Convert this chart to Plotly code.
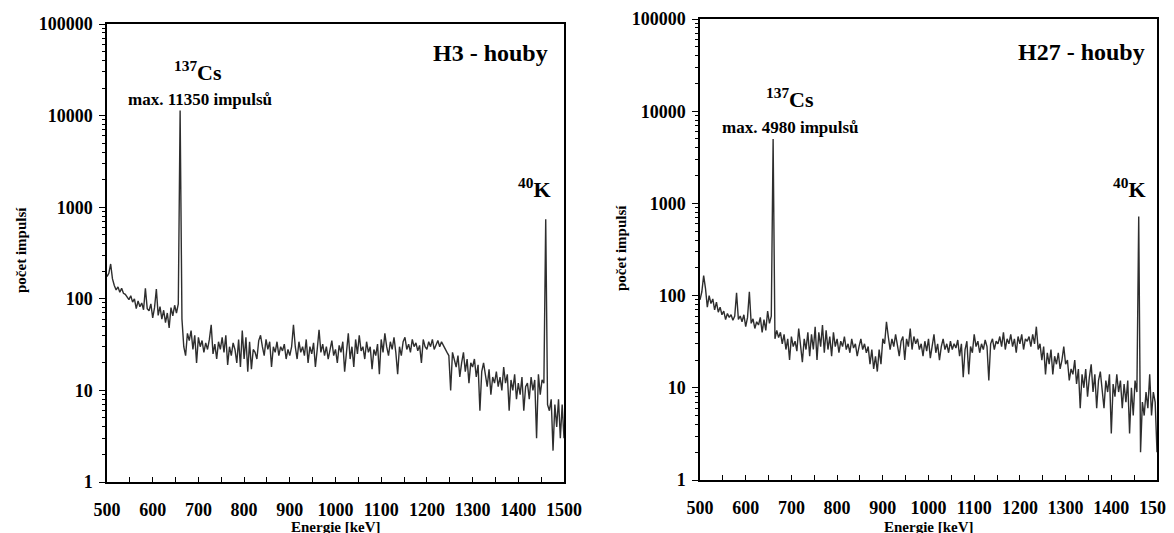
import plotly.graph_objects as go
from plotly.subplots import make_subplots

# energy channels [keV], 4 keV step
energie = list(range(500, 1501, 4))

# H3 - houby
h3 = [
    175, 190, 240, 165, 140, 125, 135, 118, 130, 115,
    112, 104, 98, 108, 92, 100, 78, 95, 82, 90,
    76, 130, 78, 74, 88, 62, 80, 128, 66, 82,
    60, 75, 55, 70, 48, 80, 65, 85, 70, 88,
    11350,
    60, 30, 24, 42, 35, 45, 28, 40, 20,
    38, 30, 35, 26, 33, 28, 36, 52, 25, 32,
    22, 34, 28, 38, 26, 40, 19, 30, 24, 33,
    28, 20, 36, 18, 45, 22, 38, 16, 34, 17,
    28, 26, 22, 35, 40, 30, 24, 36, 28, 34,
    18, 30, 26, 34, 24, 30, 27, 32, 22, 28,
    24, 30, 52, 30, 22, 34, 26, 30, 24, 36,
    20, 30, 25, 33, 18, 28, 46, 26, 32, 24,
    30, 22, 27, 35, 24, 28, 20, 31, 26, 34,
    16, 28, 42, 22, 30, 18, 36, 25, 40, 27,
    30, 22, 34, 26, 30, 17, 28, 24, 32, 15,
    36, 26, 42, 30, 24, 34, 28, 38, 26, 15,
    30, 24, 34, 38, 28, 32, 26, 36, 30, 33,
    27, 31, 20, 36, 30, 28, 34, 30, 36, 28,
    32, 35, 30, 34, 31, 28, 26, 24, 10, 26,
    22, 18, 24, 14, 20, 26, 16, 22, 12, 20,
    18, 22, 14, 19, 6, 16, 20, 15, 11, 17,
    9, 14, 12, 16, 11, 14, 10, 18, 12, 15,
    6, 13, 10, 15, 8, 12, 9, 14, 6, 11,
    12, 8, 14, 10, 13, 3, 15, 9, 13, 12,
    740,
    7, 6, 8, 2.2, 7, 4, 8, 3, 7, 3,
]

# H27 - houby
h27 = [
    90, 110, 165, 120, 75, 100, 82, 92, 70, 85,
    66, 75, 62, 68, 55, 64, 58, 62, 54, 60,
    107, 55, 60, 52, 62, 46, 58, 110, 50, 56,
    44, 52, 48, 58, 40, 55, 42, 68, 50, 60,
    4980,
    34, 42, 35, 40, 30, 38, 26, 34, 20,
    36, 28, 32, 25, 44, 30, 19, 34, 26, 40,
    22, 38, 26, 46, 20, 40, 28, 48, 24, 42,
    26, 36, 22, 40, 28, 34, 24, 32, 28, 36,
    26, 30, 24, 34, 27, 30, 22, 28, 34, 26,
    30, 24, 28, 18, 26, 16, 22, 15, 26, 18,
    34, 30, 52, 36, 26, 34, 28, 38, 30, 22,
    32, 36, 20, 34, 28, 44, 26, 36, 30, 34,
    26, 30, 22, 32, 25, 34, 21, 28, 38, 24,
    30, 20, 28, 34, 26, 30, 24, 32, 26, 30,
    27, 33, 22, 30, 13, 26, 32, 14, 28, 24,
    38, 28, 32, 24, 30, 26, 33, 28, 12, 30,
    34, 26, 32, 30, 36, 28, 40, 26, 34, 30,
    38, 28, 34, 24, 36, 30, 38, 26, 34, 32,
    36, 28, 38, 30, 46, 26, 30, 20, 28, 14,
    24, 18, 26, 14, 22, 18, 24, 16, 20, 28,
    18, 20, 12, 16, 14, 20, 11, 16, 6, 14,
    10, 16, 8, 13, 18, 9, 14, 6, 12, 15,
    10, 6, 12, 9, 14, 3.2, 11, 8, 14, 9,
    12, 6, 11, 7, 12, 3.2, 10, 5, 12, 9,
    720,
    2, 7, 5, 9, 6, 14, 5, 9, 7, 2,
]

# the page body has an 8px margin, so the figure is drawn 8px in from the corner
OFF = 8
W, H = 1174 - OFF, 533 - OFF
FONT = "Liberation Serif"


def px(x, y):
    return (x - OFF) / W, 1 - (y - OFF) / H


fig = make_subplots(rows=1, cols=2)
fig.add_trace(go.Scatter(x=energie, y=h3, mode="lines",
                         line=dict(color="#2e2e2e", width=1.4)), row=1, col=1)
fig.add_trace(go.Scatter(x=energie, y=h27, mode="lines",
                         line=dict(color="#2e2e2e", width=1.4)), row=1, col=2)

xax = dict(range=[500, 1500], tickvals=list(range(500, 1501, 100)),
           ticks="inside", ticklen=5, tickwidth=1.2, tickcolor="black",
           minor=dict(ticks="inside", ticklen=5, dtick=50, tickcolor="black", tickwidth=1.2),
           showline=True, linecolor="black", linewidth=1.5, mirror=True,
           showgrid=False, zeroline=False, ticklabelstandoff=11, automargin=False,
           ticklabeloverflow="allow",
           tickfont=dict(family=FONT, size=18, color="black", weight="bold"))
yvals = [1, 10, 100, 1000, 10000, 100000]
yax = dict(type="log", range=[0, 5], tickvals=yvals, ticktext=[str(v) for v in yvals],
           ticks="outside", ticklen=6, tickwidth=1.2, tickcolor="black",
           minor=dict(ticks="outside", ticklen=3, dtick="D1", tickcolor="black", tickwidth=1),
           showline=True, linecolor="black", linewidth=1.5, mirror=True,
           showgrid=False, zeroline=False, ticklabelstandoff=3, automargin=False,
           tickfont=dict(family=FONT, size=18, color="black", weight="bold"))

x0, _ = px(107, 0)
x1, _ = px(564, 0)
x2, _ = px(700, 0)
x3, _ = px(1157, 0)
_, yb1 = px(0, 482)
_, yt1 = px(0, 24)
_, yb2 = px(0, 480)
_, yt2 = px(0, 19)

fig.update_layout(
    width=W, height=H, margin=dict(l=0, r=0, t=0, b=0),
    paper_bgcolor="white", plot_bgcolor="white", showlegend=False,
    xaxis=dict(xax, domain=[x0, x1]),
    yaxis=dict(yax, domain=[yb1, yt1]),
    xaxis2=dict(xax, domain=[x2, x3]),
    yaxis2=dict(yax, domain=[yb2, yt2]),
)

labels = [
    # (x, y, text, size, angle)
    (198, 71, "<sup>137</sup>Cs", 22, 0),
    (200, 99, "max. 11350 impulsů", 17, 0),
    (490, 53, "H3 - houby", 24, 0),
    (534, 188, "<sup>40</sup>K", 22, 0),
    (336, 527, "Energie [keV]", 15, 0),
    (21, 250, "počet impulsí", 15, -90),
    (790, 98, "<sup>137</sup>Cs", 22, 0),
    (790, 128, "max. 4980 impulsů", 17, 0),
    (1081, 52, "H27 - houby", 24, 0),
    (1129, 188, "<sup>40</sup>K", 22, 0),
    (929, 527, "Energie [keV]", 15, 0),
    (621, 248, "počet impulsí", 15, -90),
]
for x, y, t, s, a in labels:
    fx, fy = px(x, y)
    fig.add_annotation(x=fx, y=fy, xref="paper", yref="paper", text=t, showarrow=False,
                       xanchor="center", yanchor="middle", textangle=a,
                       font=dict(family=FONT, size=s, color="black", weight="bold"))

fig.write_html("out.html")
